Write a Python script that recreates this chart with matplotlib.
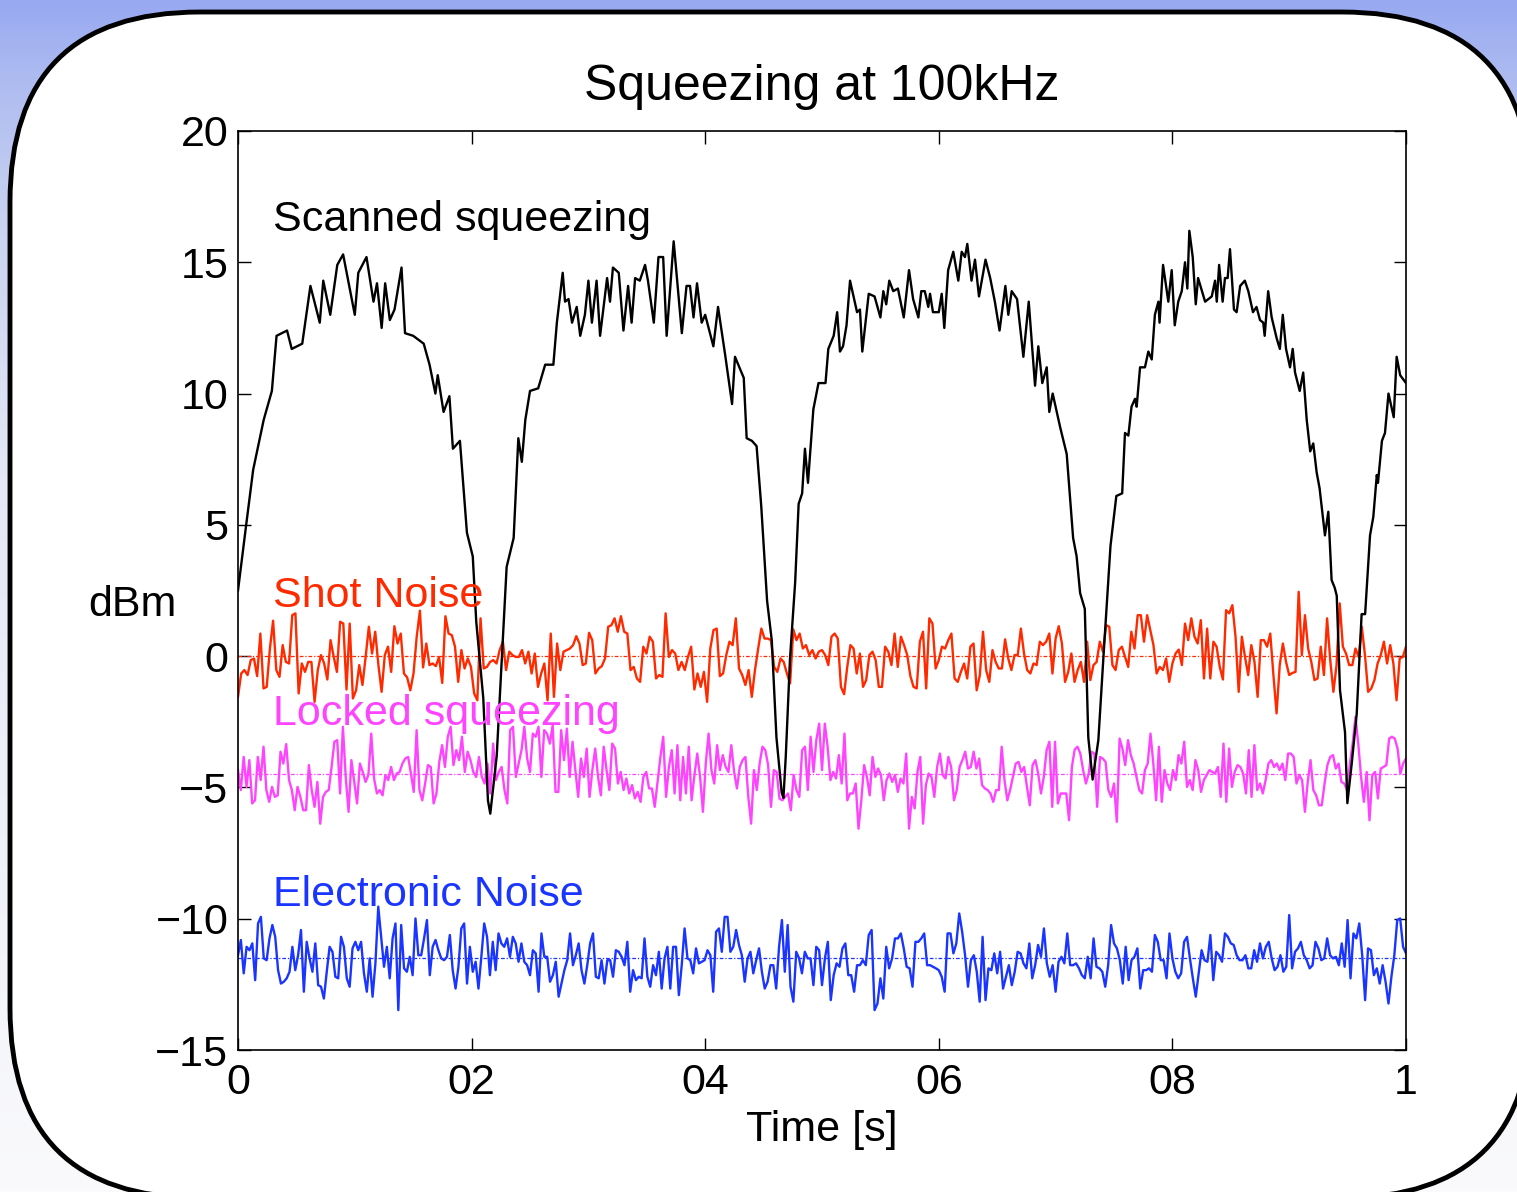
import numpy as np
import matplotlib
matplotlib.use("Agg")
import matplotlib.pyplot as plt
from matplotlib.patches import FancyBboxPatch

plt.rcParams['font.family'] = ['Liberation Sans', 'DejaVu Sans']

# scanned squeezing trace (time [s], dBm)
scan_t = [0.0, 0.007, 0.013, 0.022, 0.029, 0.033, 0.042, 0.046, 0.055, 0.062, 0.070, 0.073, 0.079, 0.085,
          0.090, 0.100, 0.103, 0.110, 0.116, 0.119, 0.123, 0.126, 0.130, 0.134, 0.140, 0.143, 0.150, 0.159,
          0.164, 0.169, 0.171, 0.176, 0.181, 0.184, 0.190, 0.196, 0.201, 0.204, 0.210, 0.214, 0.216, 0.2215,
          0.230, 0.236, 0.240, 0.243, 0.246, 0.250, 0.257, 0.263, 0.270, 0.273, 0.278, 0.280, 0.283, 0.286,
          0.290, 0.293, 0.297, 0.300, 0.303, 0.307, 0.310, 0.316, 0.3185, 0.321, 0.326, 0.330, 0.334, 0.337,
          0.340, 0.344, 0.3485, 0.351, 0.356, 0.360, 0.364, 0.367, 0.373, 0.376, 0.380, 0.384, 0.387, 0.390,
          0.393, 0.397, 0.400, 0.407, 0.411, 0.417, 0.423, 0.4255, 0.433, 0.4355, 0.440, 0.444, 0.448, 0.453,
          0.457, 0.461, 0.4655, 0.467, 0.469, 0.4726, 0.477, 0.480, 0.483, 0.4854, 0.488, 0.4926, 0.497, 0.503,
          0.5054, 0.510, 0.513, 0.5154, 0.518, 0.521, 0.524, 0.530, 0.5325, 0.5345, 0.540, 0.545, 0.550, 0.5525,
          0.555, 0.5576, 0.561, 0.565, 0.570, 0.5745, 0.578, 0.5825, 0.585, 0.588, 0.591, 0.5925, 0.595, 0.600,
          0.6025, 0.6047, 0.608, 0.6124, 0.6167, 0.6196, 0.6224, 0.6244, 0.628, 0.631, 0.6344, 0.640, 0.644,
          0.648, 0.652, 0.657, 0.6595, 0.6624, 0.667, 0.6724, 0.677, 0.6824, 0.6852, 0.6886, 0.6924, 0.6946,
          0.6975, 0.704, 0.7095, 0.715, 0.718, 0.721, 0.725, 0.728, 0.7317, 0.7366, 0.741, 0.747, 0.752, 0.757,
          0.7594, 0.7623, 0.765, 0.768, 0.7694, 0.7723, 0.7765, 0.7794, 0.7823, 0.785, 0.788, 0.789, 0.792,
          0.7965, 0.7994, 0.802, 0.805, 0.808, 0.8108, 0.8128, 0.8145, 0.8174, 0.820, 0.822, 0.828, 0.8337,
          0.8365, 0.838, 0.840, 0.843, 0.845, 0.8473, 0.8493, 0.8527, 0.855, 0.858, 0.862, 0.865, 0.869, 0.872,
          0.875, 0.8778, 0.879, 0.882, 0.885, 0.8893, 0.892, 0.8945, 0.8973, 0.9007, 0.903, 0.905, 0.909, 0.912,
          0.915, 0.918, 0.9206, 0.9235, 0.926, 0.9306, 0.9335, 0.9363, 0.939, 0.9407, 0.9435, 0.9478, 0.9498,
          0.9535, 0.9578, 0.962, 0.965, 0.9692, 0.972, 0.975, 0.976, 0.9794, 0.982, 0.985, 0.9895, 0.992, 0.995,
          1.0]
scan_db = [2.5, 5.0, 7.1, 9.0, 10.1, 12.2, 12.4, 11.7, 11.9, 14.1, 12.7, 14.3, 13.0, 14.9,
           15.3, 13.0, 14.6, 15.2, 13.5, 14.2, 12.5, 14.2, 12.8, 13.2, 14.8, 12.3, 12.2, 11.9,
           11.1, 10.0, 10.7, 9.3, 9.9, 7.9, 8.2, 4.7, 3.8, 1.3, -1.6, -5.5, -6.0, -3.8,
           3.4, 4.5, 8.3, 7.4, 9.0, 10.1, 10.2, 11.1, 11.1, 12.7, 14.6, 13.5, 13.6, 12.7,
           13.3, 12.2, 13.0, 14.3, 12.7, 14.3, 12.2, 14.4, 13.5, 14.8, 14.6, 12.4, 14.1, 12.7,
           14.4, 14.3, 14.9, 14.3, 12.7, 15.2, 15.2, 12.2, 15.8, 14.3, 12.3, 14.1, 14.1, 12.9,
           14.2, 12.7, 13.0, 11.8, 13.3, 11.5, 9.6, 11.4, 10.6, 8.3, 8.2, 8.0, 5.7, 2.1,
           0.6, -3.1, -5.2, -5.4, -3.8, -0.1, 2.8, 5.8, 6.2, 7.9, 6.6, 9.4, 10.4, 10.4,
           11.7, 12.2, 13.1, 11.6, 11.8, 12.6, 14.3, 13.1, 13.2, 11.6, 13.8, 13.7, 12.9, 13.9,
           13.4, 14.3, 13.9, 14.0, 12.9, 14.7, 13.6, 12.9, 13.9, 13.9, 13.3, 13.8, 13.1, 13.1,
           13.8, 12.5, 14.7, 15.4, 14.3, 15.4, 15.2, 15.7, 14.3, 15.1, 13.7, 15.1, 14.4,
           13.5, 12.4, 14.1, 13.0, 13.9, 13.6, 11.4, 13.5, 10.3, 11.8, 10.4, 11.0, 9.3,
           10.0, 8.7, 7.7, 4.5, 3.8, 2.4, 1.8, -3.1, -4.7, -3.2, 0.0, 4.2, 6.1, 6.2,
           8.5, 8.4, 9.5, 9.8, 9.5, 11.0, 11.0, 11.6, 11.3, 13.0, 13.5, 12.7, 14.9,
           13.5, 14.7, 12.6, 13.5, 13.9, 15.0, 14.0, 16.2, 15.2, 13.4, 14.4, 13.5, 13.7,
           14.3, 13.5, 14.9, 13.5, 14.4, 14.4, 15.5, 13.2, 13.1, 14.1, 14.3, 13.9, 13.1, 13.3,
           12.8, 12.7, 12.2, 13.9, 12.9, 12.1, 11.7, 13.0, 11.7, 11.0, 11.7, 10.8, 10.1, 10.8,
           9.0, 7.8, 8.1, 7.0, 6.4, 4.6, 5.5, 2.9, 2.6, 2.3, -1.3, -2.9, -5.6,
           -4.1, -2.2, 1.6, 1.6, 4.6, 5.3, 6.9, 6.6, 8.2, 8.5, 10.0, 9.1, 11.4, 10.7,
           10.4]

# shot noise, first and second half of the sweep (dBm)
shot_a = [-1.55, -0.66, -0.53, -0.72, -0.15, -0.09, -0.76, 0.86, -1.23, -1.17, 0.29, 1.35, -0.53, -0.79,
          0.42, -0.22, -0.28, 1.56, 1.63, -1.42, -0.28, -0.60, -0.22, -0.22, -1.74, -0.53, 0.04, -0.28,
          -0.89, 0.61, -0.03, -0.60, 1.31, 1.24, -1.27, 1.24, -1.61, -1.30, -0.34, -1.10, -0.03, 1.12,
          0.10, 0.93, -0.34, -1.36, 0.04, 0.36, -0.60, 1.14, 0.48, 0.86, -0.66, -0.81, -1.30, -0.66,
          0.74, 1.73, -0.43, 0.48, -0.34, -0.28, -0.38, -0.03, -1.02, 1.52, 0.86, 0.80, 0.36, -0.98,
          0.23, -0.47, -0.09, -0.41, -1.42, -1.68, 1.44, -0.47, -0.41, -0.22, -0.15, -0.28, 0.23, 0.55,
          -0.53, 0.17, 0.04, -0.03, -0.03, 0.23, -0.28, 0.17, -0.66, 0.10, -1.17, -0.66, -0.28, -1.68,
          0.86, -1.55, 0.48, -0.53, 0.17, 0.23, 0.29, 0.42, 0.76, 0.48, -0.34, -0.28, 0.89, 0.61,
          -0.66, -0.47, -0.38, -0.09, 1.12, 1.18, 1.44, 0.93, 1.52, 0.93, 0.86, -0.53, -0.41, -0.85,
          -0.98, 0.36, 0.10, 0.74, 0.55, -0.85, -0.72, -0.79, 1.63, -0.03, 0.23, 0.10, -0.53, -0.22,
          -0.53, -0.03, 0.36, -1.27, -0.66, -1.17, -0.60, -1.74, 0.29, 0.99, 1.05, -0.76, -0.66, 0.04,
          0.55, 0.42, 1.44, -0.47, -0.72, -1.10, -0.53, -1.55, -0.53, 0.29, 1.05, 0.67, 0.67, 0.61,
          -0.41, -0.60, -0.09, -0.22, -0.66, -1.04, 1.02, 0.61, 0.86, 0.29, 0.42, 0.04, 0.23, -0.09, 0.17]
shot_b = [0.23, 0.04, -0.34, 0.74, 0.86, 0.67, -1.17, -1.45, -0.41, 0.42, 0.29, -0.66, 0.10, -1.17,
          -0.91, 0.04, 0.17, -0.15, -1.17, -1.17, 0.36, 0.17, -0.34, 0.86, -0.41, 0.74, 0.42, 0.04,
          -0.76, -1.17, -1.23, 0.55, 0.93, -1.23, 1.44, 1.24, -0.47, -0.15, 0.36, 0.29, 0.61, 0.86,
          -0.85, -0.98, -0.60, -0.28, -0.85, 0.36, 0.48, -1.30, -0.72, 0.93, -0.53, -0.98, 0.23, -0.22,
          -0.47, -0.47, 0.64, -0.09, -0.53, 0.04, 0.04, 1.05, 0.10, -0.53, -0.66, -0.28, -0.34, 0.55,
          0.42, 0.55, 0.86, -0.66, 0.67, 1.14, 0.48, -0.98, -0.60, 0.10, -0.98, -0.53, -0.22, -0.98,
          0.55, -0.91, -0.34, -0.22, 0.55, 0.17, 1.18, 1.12, -0.34, -0.53, 0.23, 0.36, -0.03, -0.41,
          0.93, 0.29, 1.56, 1.56, 0.55, 1.56, 0.99, 0.42, -0.66, -0.41, -0.53, -0.09, -0.98, -0.28,
          0.10, 0.25, -0.34, 1.24, 0.61, 1.44, 0.74, 0.48, 1.37, -0.85, 1.05, -0.85, 0.55, 0.36,
          -0.41, -0.89, 1.75, 1.63, 1.94, 0.74, -1.36, 0.74, -0.03, -0.72, 0.42, -0.22, -1.55, 0.61,
          0.61, 0.36, 0.86, -0.72, -2.18, -0.34, 0.48, -0.22, -0.72, -0.64, -0.60, 2.45, 0.04, 1.56,
          0.29, -0.22, -0.91, -0.85, 0.36, -0.72, 1.44, -0.15, -1.36, -0.34, 2.01, 0.36, 0.10, -0.34,
          -0.34, 0.29, -0.03, 1.12, 0.04, -1.36, -1.23, -0.91, -0.28, 0.04, 0.55, -0.28, 0.42, -0.28,
          -1.68, -0.09, -0.03, 0.36]

# locked squeezing (dBm)
locked_a = [-4.34, -5.10, -3.84, -4.98, -3.96, -5.61, -5.49, -3.84, -4.72, -3.45, -5.10, -5.55, -4.98, -5.36,
            -5.30, -3.64, -4.09, -3.35, -4.72, -5.10, -5.87, -4.98, -5.36, -5.87, -5.87, -4.15, -5.10, -5.74,
            -4.79, -6.38, -5.36, -5.17, -5.10, -4.22, -3.26, -3.20, -5.23, -2.69, -4.60, -5.93, -3.96, -4.79,
            -5.61, -4.09, -4.41, -4.79, -4.53, -2.95, -4.66, -5.23, -5.10, -5.30, -4.53, -4.72, -4.22, -4.72,
            -4.47, -4.41, -4.09, -3.90, -3.84, -4.47, -5.17, -2.82, -5.10, -5.49, -4.85, -4.15, -4.22, -5.61,
            -5.23, -4.03, -3.39, -4.22, -3.07, -2.69, -4.15, -3.58, -3.96, -3.07, -4.41, -3.64, -3.96, -4.41,
            -4.60, -3.84, -4.60, -4.85, -4.09, -5.23, -3.33, -4.72, -4.41, -4.22, -5.10, -5.61, -2.82, -2.69,
            -4.60, -4.09, -3.58, -2.69, -3.90, -4.41, -2.95, -3.07, -2.69, -4.60, -2.82, -2.95, -3.33, -2.63,
            -5.17, -5.17, -2.82, -3.96, -2.76, -4.60, -3.26, -4.34, -5.36, -3.90, -4.60, -3.52, -5.36, -4.34,
            -3.52, -4.60, -5.30, -3.45, -4.34, -5.10, -3.33, -3.52, -4.85, -4.41, -5.10, -4.66, -5.23, -4.91,
            -5.42, -5.17, -5.55, -4.60, -4.41, -5.04, -5.04, -5.74, -4.79, -3.84, -3.07, -5.36, -4.22, -3.58,
            -5.23, -3.39, -5.49, -3.84, -5.23, -3.45, -5.49, -4.53, -3.71, -4.60, -5.93, -4.09, -2.95, -4.34,
            -4.85, -3.39, -4.34, -3.77, -4.22, -4.41, -3.39, -4.41, -5.04, -4.22, -3.96, -3.84, -5.36, -6.38,
            -4.34, -5.10, -4.09, -3.45, -3.58, -4.15, -5.74, -4.34, -4.41, -5.42, -5.49, -5.36, -5.23, -5.87,
            -4.53, -5.10, -5.36, -3.58, -3.45, -5.10, -3.07, -4.41, -3.20, -2.57]
locked_b = [-4.34, -2.57, -3.45, -4.72, -4.41, -4.66, -3.77, -4.85, -2.95, -5.49, -5.23, -5.23, -4.85, -6.57,
            -5.49, -4.15, -4.60, -5.30, -3.84, -4.60, -4.28, -4.53, -5.49, -4.72, -4.47, -4.79, -4.53, -5.17,
            -4.66, -4.85, -3.71, -6.57, -5.36, -5.80, -4.41, -3.84, -6.38, -4.91, -4.47, -4.60, -5.36, -4.22,
            -3.71, -4.53, -4.66, -3.84, -4.22, -5.49, -5.10, -4.22, -3.96, -3.64, -4.28, -4.22, -3.64, -4.28,
            -3.90, -4.91, -5.04, -5.10, -5.23, -5.55, -5.10, -5.10, -3.45, -4.72, -5.49, -5.10, -4.60, -4.09,
            -4.03, -4.41, -4.22, -4.98, -5.68, -4.15, -3.96, -4.47, -5.23, -4.60, -3.58, -3.26, -5.74, -3.26,
            -5.61, -5.23, -5.23, -5.23, -6.25, -4.22, -3.56, -3.45, -3.71, -4.34, -4.85, -4.47, -3.64, -3.71,
            -5.74, -3.84, -3.90, -4.03, -5.10, -5.36, -4.85, -6.31, -3.14, -3.52, -4.15, -3.20, -3.77, -4.09,
            -4.60, -5.10, -5.23, -4.34, -4.09, -2.95, -4.09, -5.49, -3.45, -5.55, -4.34, -4.85, -5.10, -4.34,
            -4.72, -3.77, -4.09, -3.26, -4.98, -4.72, -5.10, -3.96, -4.34, -5.17, -4.72, -4.53, -4.34, -4.41,
            -4.47, -4.22, -5.36, -3.33, -5.55, -3.52, -4.98, -4.41, -4.15, -4.22, -4.47, -5.23, -3.58, -5.36,
            -3.39, -5.10, -4.85, -5.23, -4.72, -4.09, -3.96, -4.22, -4.09, -4.34, -4.09, -4.72, -3.71, -3.71,
            -3.84, -4.85, -4.53, -4.72, -5.93, -4.79, -3.96, -5.10, -5.30, -5.68, -5.68, -4.85, -4.15, -3.84,
            -3.77, -4.28, -4.09, -4.79, -4.85, -5.10, -4.09, -3.33, -2.31, -3.33, -4.60, -5.55, -4.41, -6.25,
            -4.53, -4.41, -5.42, -4.28, -4.22, -4.15, -3.14, -3.07, -3.14, -3.52, -4.47, -4.09, -3.90]

# electronic noise (dBm)
elec_a = [-11.39, -10.81, -12.08, -11.07, -11.20, -10.94, -12.34, -10.18, -9.93, -11.51, -11.58, -10.75,
          -10.24, -10.69, -11.96, -12.47, -12.40, -12.27, -12.02, -11.07, -11.96, -11.39, -10.43, -12.78,
          -10.88, -11.51, -12.02, -10.94, -12.53, -12.59, -13.04, -12.02, -11.07, -11.26, -12.21, -12.27,
          -10.69, -11.07, -12.27, -12.59, -11.13, -10.88, -11.20, -10.88, -12.08, -12.78, -11.51, -12.97,
          -11.70, -9.54, -10.69, -11.83, -11.07, -12.27, -10.75, -10.18, -13.48, -10.24, -11.89, -12.02,
          -11.45, -12.15, -9.99, -11.39, -11.39, -10.75, -10.05, -12.15, -11.07, -10.81, -11.20, -11.51,
          -11.58, -11.45, -10.62, -11.96, -12.66, -11.83, -10.37, -10.18, -12.47, -11.07, -12.02, -11.64,
          -12.66, -11.45, -10.18, -10.69, -12.15, -10.88, -11.96, -10.56, -10.94, -11.07, -10.75, -11.45,
          -10.69, -10.94, -11.64, -10.94, -11.64, -11.77, -12.15, -11.20, -11.32, -12.78, -10.56, -11.45,
          -11.45, -12.40, -12.15, -11.64, -12.97, -12.47, -11.96, -11.58, -10.56, -11.77, -11.39, -10.94,
          -11.96, -12.47, -11.77, -10.94, -10.56, -12.21, -12.27, -11.58, -12.47, -11.58, -11.58, -12.21,
          -11.20, -11.26, -11.45, -11.77, -10.88, -12.78, -11.96, -12.34, -12.21, -12.27, -10.75, -12.21,
          -12.59, -11.77, -12.15, -11.26, -12.66, -11.51, -11.07, -12.66, -11.07, -11.07, -12.91, -11.77,
          -10.37, -11.51, -11.58, -12.08, -11.13, -11.70, -11.64, -11.58, -11.20, -11.39, -12.78, -10.50,
          -10.37, -11.26, -9.93, -9.93, -11.26, -11.07, -10.43, -11.00, -11.39, -12.40, -11.51, -11.26,
          -12.08, -11.58, -11.13, -12.02, -12.66, -12.40, -11.77, -11.77, -12.66, -11.07, -10.05, -12.02,
          -10.24, -12.59, -13.16, -11.26, -11.51, -12.08, -11.26, -11.51, -11.51, -12.53, -11.07, -11.20]
elec_b = [-12.53, -11.51, -10.88, -13.10, -12.15, -11.70, -11.83, -11.13, -10.94, -12.15, -12.15, -12.78,
          -11.77, -11.77, -11.58, -11.77, -10.62, -10.43, -13.48, -13.23, -12.27, -13.04, -11.07, -11.89,
          -11.51, -10.75, -10.75, -10.56, -11.13, -11.83, -11.89, -12.59, -10.88, -10.88, -10.75, -10.56,
          -11.77, -11.77, -11.83, -11.89, -11.96, -12.21, -12.78, -10.56, -10.56, -11.32, -10.94, -9.80,
          -10.50, -11.39, -12.59, -11.58, -11.39, -12.02, -13.16, -10.69, -13.10, -11.89, -11.96, -11.32,
          -12.08, -11.26, -12.66, -12.21, -11.77, -12.53, -12.02, -11.26, -11.32, -11.70, -11.89, -10.94,
          -12.27, -11.77, -11.00, -11.45, -10.37, -11.70, -12.21, -11.77, -12.78, -11.64, -11.45, -11.70,
          -10.56, -11.77, -11.77, -11.70, -11.89, -12.15, -12.27, -11.45, -12.27, -10.75, -11.83, -11.89,
          -12.02, -12.59, -11.77, -10.24, -10.94, -11.13, -11.58, -12.47, -11.07, -12.34, -11.58, -11.45,
          -11.13, -12.66, -11.96, -11.96, -11.89, -12.02, -10.62, -10.88, -11.58, -11.58, -12.27, -10.56,
          -11.51, -12.02, -12.27, -12.08, -10.88, -10.69, -11.51, -12.27, -12.97, -12.08, -11.20, -11.58,
          -11.64, -10.62, -12.34, -11.26, -11.39, -11.64, -10.56, -10.69, -10.94, -11.00, -11.39, -11.58,
          -11.58, -11.39, -11.89, -11.89, -11.20, -11.64, -10.94, -11.51, -11.07, -10.88, -11.51, -11.96,
          -11.83, -11.39, -12.02, -11.83, -9.86, -11.89, -11.26, -11.13, -10.88, -11.39, -11.58, -11.89,
          -11.77, -10.88, -11.13, -11.58, -11.51, -10.75, -11.39, -11.51, -11.45, -11.77, -10.94, -11.83,
          -10.05, -12.27, -10.56, -10.75, -10.18, -11.39, -13.10, -11.13, -11.20, -12.15, -11.89, -12.47,
          -11.77, -12.40, -13.23, -12.21, -11.39, -10.05, -9.99, -11.07, -11.32]

# mean levels drawn as dotted guides
shot_level = 0.0
locked_level = -4.5
elec_level = -11.5

x_ticks = [0, 0.2, 0.4, 0.6, 0.8, 1.0]
x_ticklabels = ['0', '02', '04', '06', '08', '1']
y_ticks = [-15, -10, -5, 0, 5, 10, 15, 20]
y_ticklabels = ['\u221215', '\u221210', '\u22125', '0', '5', '10', '15', '20']

c_red = '#ff2a00'
c_pink = '#ff44ff'
c_blue = '#1a35ff'


def half_times(a, b):
    ta = np.linspace(0.0, 0.5, len(a), endpoint=False)
    tb = np.linspace(0.5, 1.0, len(b))
    return np.concatenate([ta, tb]), np.concatenate([a, b])


W, H = 1517, 1192
fig = plt.figure(figsize=(W / 100, H / 100), dpi=100)

# slide background: blue gradient and white rounded panel
bg = fig.add_axes([0, 0, 1, 1], zorder=0)
bg.set_xlim(0, W)
bg.set_ylim(H, 0)
bg.axis('off')
stops = np.array([0.0, 0.06, 0.18, 0.4, 1.0])
cols = np.array([[152, 168, 242], [172, 186, 240], [200, 210, 240], [228, 232, 246], [250, 250, 252]]) / 255.0
yy = np.linspace(0, 1, 300)
grad = np.stack([np.interp(yy, stops, cols[:, k]) for k in range(3)], axis=1)
bg.imshow(grad[:, None, :], extent=[0, W, H, 0], aspect='auto')
panel = FancyBboxPatch((10, 12), 1522, 1186, boxstyle="round,pad=0,rounding_size=190",
                       fc='white', ec='black', lw=3.5)
bg.add_patch(panel)

ax = fig.add_axes([238 / W, 1 - 1050 / H, 1168 / W, 919 / H], zorder=1)
ax.set_facecolor('white')

t_shot, v_shot = half_times(shot_a, shot_b)
t_lock, v_lock = half_times(locked_a, locked_b)
t_elec, v_elec = half_times(elec_a, elec_b)

guide = (0, (3, 1.5, 1, 1.5))
ax.axhline(shot_level, color=c_red, lw=0.9, ls=guide)
ax.axhline(locked_level, color=c_pink, lw=0.9, ls=guide)
ax.axhline(elec_level, color=c_blue, lw=0.9, ls=guide)

ax.plot(t_elec, v_elec, color=c_blue, lw=1.7)
ax.plot(t_lock, v_lock, color=c_pink, lw=1.7)
ax.plot(t_shot, v_shot, color=c_red, lw=1.7)
ax.plot(scan_t, scan_db, color='black', lw=1.7)

ax.set_xlim(0, 1)
ax.set_ylim(-15, 20)
ax.set_xticks(x_ticks)
ax.set_xticklabels(x_ticklabels)
ax.set_yticks(y_ticks)
ax.set_yticklabels(y_ticklabels)
ax.tick_params(direction='in', length=9, width=1, top=True, right=True, labelsize=31)
ax.tick_params(axis='x', pad=9)
ax.tick_params(axis='y', pad=7)
for s in ax.spines.values():
    s.set_linewidth(1.2)

ax.text(0.5, 1.048, 'Squeezing at 100kHz', transform=ax.transAxes, ha='center', va='center', fontsize=36)
ax.set_xlabel('Time [s]', fontsize=31)
ax.xaxis.set_label_coords(0.5, -0.087)
ax.xaxis.label.set_va('center')
ax.set_ylabel('dBm', fontsize=31, rotation=0, ha='center', va='center')
ax.yaxis.set_label_coords(-0.09, 0.484)

ax.text(0.03, 16.6, 'Scanned squeezing', color='black', fontsize=31, va='center')
ax.text(0.03, 2.3, 'Shot Noise', color=c_red, fontsize=31, va='center')
ax.text(0.03, -2.2, 'Locked squeezing', color=c_pink, fontsize=31, va='center')
ax.text(0.03, -9.1, 'Electronic Noise', color=c_blue, fontsize=31, va='center')

fig.savefig('out.png', dpi=100)
